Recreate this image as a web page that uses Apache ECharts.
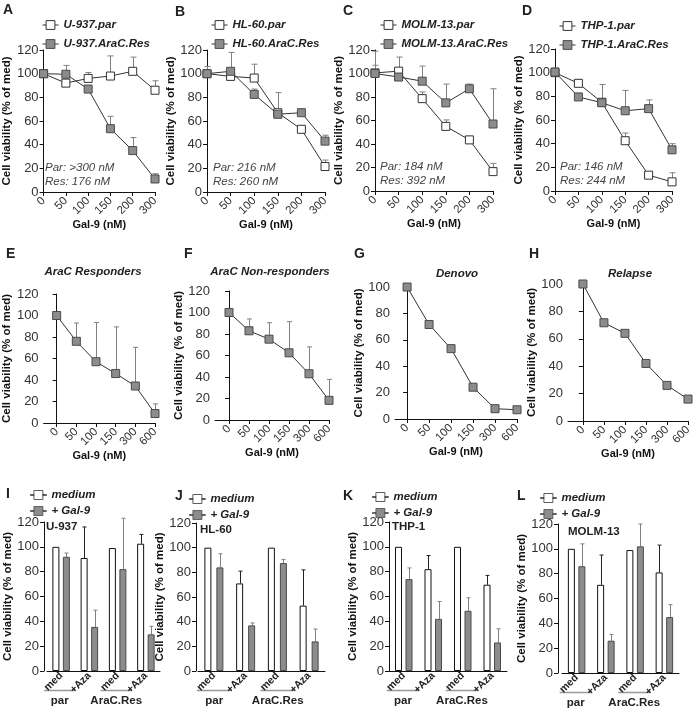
<!DOCTYPE html>
<html><head><meta charset="utf-8">
<script src="https://cdn.jsdelivr.net/npm/echarts@6/dist/echarts.min.js"></script>
<style>html,body{margin:0;padding:0;background:#fff}#c{width:700px;height:712px}</style>
</head><body><div id="c"></div>
<script>
// ================= DATA =================
const doseTop = ['0','50','100','150','200','300'];
const doseMid = ['0','50','100','150','300','600'];
const barCats = ['med','+Aza','med','+Aza'];
const groupLabels = ['par','AraC.Res'];

// A  U-937
const u937Par    = [100, 92, 96, 98, 102, 86];
const u937ParErr = [null, null, 101, 115, 114, 94];
const u937Res    = [100, 99.5, 87, 53.5, 35, 11];
const u937ResErr = [null, 107, null, 64, 46, 15.5];
// B  HL-60
const hl60Par    = [100, 97.7, 96.3, 67, 53, 21.5];
const hl60ParErr = [106, null, 108, 84, null, 27];
const hl60Res    = [100, 102, 82.5, 65.7, 67, 43];
const hl60ResErr = [null, 118, 87, null, 69.5, 48];
// C  MOLM-13
const molmPar    = [100.5, 102, 78.6, 55, 43.5, 16.5];
const molmParErr = [107, 114, 84.3, 60.5, null, 23.5];
const molmRes    = [100, 97, 93.5, 75, 87, 57];
const molmResErr = [119, null, 106.3, 91, 91, 87];
// D  THP-1
const thp1Par    = [100, 91, 75, 42.5, 13.4, 7.7];
const thp1ParErr = [104, 94, 90, 49, null, 15.4];
const thp1Res    = [100.5, 79.5, 74.6, 67.8, 69.6, 34.8];
const thp1ResErr = [null, null, null, 85, 77, 40];
// E-H
const respVal    = [100, 76, 57, 46, 34.4, 8.8];
const respErr    = [null, 93, 93.5, 89.4, 70.4, 17.8];
const nonRespVal = [100, 83, 75.2, 62.5, 43, 18.3];
const nonRespErr = [null, 94, 90.5, 91.5, 68, 37.8];
const denovoVal  = [100, 71.6, 53.3, 24.1, 7.8, 7];
const relapseVal = [100, 71.7, 64, 42, 26, 16];
// I-L   (order: par-med, par-+Aza, Res-med, Res-+Aza)
const iMed = [100, 91, 99, 102.5],  iMedErr = [null, 116, null, 110];
const iGal = [92, 35.5, 82, 29.5],  iGalErr = [95, 49, 123, 36];
const jMed = [100, 71, 100, 53],    jMedErr = [null, 81, null, 82];
const jGal = [84, 37, 87.5, 24],    jGalErr = [95, 39, 90.5, 34];
const kMed = [100, 82, 100, 69.5],  kMedErr = [null, 93, null, 77];
const kGal = [74, 42, 48.5, 23],    kGalErr = [83, 56, 59, 34];
const lMed = [100, 71, 99, 81],     lMedErr = [null, 95, null, 103];
const lGal = [86, 26, 102, 45],     lGalErr = [104, 31, 120, 55];

// ================= STYLE / LAYOUT =================
const FONT = '"Liberation Sans", Arial, Helvetica, sans-serif';
const TXT = '#222', AXC = '#111', LINEC = '#333', GRAYF = '#8c8c8c', GRAYB = '#4a4a4a', ERRC = '#808080';
const YNAME = 'Cell viability (% of med)';
const XNAME = 'Gal-9 (nM)';

const grids = [], xAxes = [], yAxes = [], series = [], titles = [], legends = [];

function errSeries(gi, data, offsetPx, cap, color) {
  const d = [];
  data.vals.forEach((v, i) => { if (data.errs[i] != null) d.push([i, v, data.errs[i]]); });
  series.push({
    type: 'custom', xAxisIndex: gi, yAxisIndex: gi, z: 1, silent: true, clip: false,
    encode: { x: 0, y: 1 },
    renderItem: function (params, api) {
      const p0 = api.coord([api.value(0), api.value(1)]);
      const p1 = api.coord([api.value(0), api.value(2)]);
      const cx = Math.round(p0[0] + offsetPx) + 0.5;
      return { type: 'group', children: [
        { type: 'line', shape: { x1: cx, y1: p0[1], x2: cx, y2: p1[1] }, style: { stroke: color, lineWidth: 1 } },
        { type: 'line', shape: { x1: cx - cap / 2, y1: p1[1], x2: cx + cap / 2, y2: p1[1] }, style: { stroke: color, lineWidth: 1 } }
      ]};
    },
    data: d
  });
}

function yAxisCfg(gi, max, nameGap, offset) {
  return {
    gridIndex: gi, type: 'value', min: 0, max: max, interval: 20, offset: offset || 0,
    name: YNAME, nameLocation: 'middle', nameGap: nameGap,
    nameTextStyle: { fontFamily: FONT, fontWeight: 'bold', fontSize: 11.5, color: AXC },
    axisLine: { show: true, lineStyle: { color: AXC, width: 1 } },
    axisTick: { show: true, length: 4, lineStyle: { color: AXC } },
    axisLabel: { fontFamily: FONT, fontSize: 13, color: '#333', margin: 5 },
    splitLine: { show: false }
  };
}

function letter(t, left, top) {
  titles.push({ text: t, left: left, top: top, padding: 0,
    textStyle: { fontFamily: FONT, fontWeight: 'bold', fontSize: 14, color: TXT } });
}

// ----- Top row (A-D) -----
const topPanels = [
  { L:'A', par:'U-937.par', res:'U-937.AraC.Res', pv:u937Par, pe:u937ParErr, rv:u937Res, re:u937ResErr, ic:'Par: >300 nM\nRes: 176 nM',
    grid:{left:37, top:50, width:118, height:142}, leg:[42,19], icPos:[45,161], let:[3,3] },
  { L:'B', par:'HL-60.par', res:'HL-60.AraC.Res', pv:hl60Par, pe:hl60ParErr, rv:hl60Res, re:hl60ResErr, ic:'Par: 216 nM\nRes: 260 nM',
    grid:{left:207, top:50, width:118, height:142}, leg:[211,19], icPos:[213,161], let:[175,5] },
  { L:'C', par:'MOLM-13.par', res:'MOLM-13.AraC.Res', pv:molmPar, pe:molmParErr, rv:molmRes, re:molmResErr, ic:'Par: 184 nM\nRes: 392 nM',
    grid:{left:375, top:50, width:118, height:141}, leg:[380,19], icPos:[380,160], let:[343,4] },
  { L:'D', par:'THP-1.par', res:'THP-1.AraC.Res', pv:thp1Par, pe:thp1ParErr, rv:thp1Res, re:thp1ResErr, ic:'Par: 146 nM\nRes: 244 nM',
    grid:{left:555, top:49, width:117, height:142}, leg:[559,20], icPos:[560,160], let:[522,4] }
];

topPanels.forEach(p => {
  const gi = grids.length;
  grids.push(p.grid);
  xAxes.push({
    gridIndex: gi, type: 'category', data: doseTop, boundaryGap: false,
    name: XNAME, nameLocation: 'middle', nameGap: 25,
    nameTextStyle: { fontFamily: FONT, fontWeight: 'bold', fontSize: 11, color: AXC },
    axisLine: { lineStyle: { color: AXC, width: 1 } },
    axisTick: { show: true, length: 4, interval: 0, lineStyle: { color: AXC } },
    axisLabel: { rotate: 45, interval: 0, fontFamily: FONT, fontSize: 11.5, color: '#333', margin: 7 }
  });
  yAxes.push(yAxisCfg(gi, 120, 23));
  errSeries(gi, { vals: p.pv, errs: p.pe }, 0, 6, ERRC);
  errSeries(gi, { vals: p.rv, errs: p.re }, 0, 6, ERRC);
  series.push({ name: p.par, type: 'line', xAxisIndex: gi, yAxisIndex: gi, data: p.pv, z: 3,
    symbol: 'rect', symbolSize: 8, lineStyle: { color: LINEC, width: 1 },
    itemStyle: { color: '#fff', borderColor: '#333', borderWidth: 1 }, emphasis: { disabled: true } });
  series.push({ name: p.res, type: 'line', xAxisIndex: gi, yAxisIndex: gi, data: p.rv, z: 4,
    symbol: 'rect', symbolSize: 8, lineStyle: { color: LINEC, width: 1 },
    itemStyle: { color: GRAYF, borderColor: GRAYB, borderWidth: 1 }, emphasis: { disabled: true } });
  legends.push({ left: p.leg[0], top: p.leg[1], orient: 'vertical', itemWidth: 16, itemHeight: 11, itemGap: 7,
    selectedMode: false, data: [p.par, p.res], padding: 0,
    itemStyle: { borderWidth: 1 }, lineStyle: { width: 1 },
    textStyle: { fontFamily: FONT, fontWeight: 'bold', fontStyle: 'italic', fontSize: 11.5, color: TXT } });
  titles.push({ text: p.ic, left: p.icPos[0], top: p.icPos[1], padding: 0,
    textStyle: { fontFamily: FONT, fontStyle: 'italic', fontWeight: 'normal', fontSize: 11.5, color: '#444', lineHeight: 14 } });
  letter(p.L, p.let[0], p.let[1]);
});

// ----- Middle row (E-H) -----
const midPanels = [
  { L:'E', title:'AraC Responders', v:respVal, e:respErr, max:120, xmin:-0.665,
    grid:{left:42, top:294, width:113, height:129}, tPos:[93,266], let:[6,247], ng:27, xg:24 },
  { L:'F', title:'AraC Non-responders', v:nonRespVal, e:nonRespErr, max:120, xmin:-0.7,
    grid:{left:215, top:291, width:114, height:129}, tPos:[270,266], let:[184,247], ng:24, xg:24 },
  { L:'G', title:'Denovo', v:denovoVal, e:null, max:100, xmin:-0.55,
    grid:{left:395, top:287, width:122, height:132}, tPos:[457,268], let:[354,247], ng:24, xg:26 },
  { L:'H', title:'Relapse', v:relapseVal, e:null, max:100, xmin:-0.71,
    grid:{left:568, top:284, width:120, height:137}, tPos:[630,268], let:[529,247], ng:20, xg:24 }
];

midPanels.forEach(p => {
  const gi = grids.length;
  grids.push(p.grid);
  const idx = doseMid.map((_, i) => i);
  xAxes.push({
    gridIndex: gi, type: 'value', min: p.xmin, max: doseMid.length - 1,
    name: XNAME, nameLocation: 'middle', nameGap: p.xg,
    nameTextStyle: { fontFamily: FONT, fontWeight: 'bold', fontSize: 11, color: AXC },
    axisLine: { show: true, onZero: false, lineStyle: { color: AXC, width: 1 } },
    axisTick: { show: true, length: 4, customValues: idx, lineStyle: { color: AXC } },
    axisLabel: { rotate: 45, customValues: idx, fontFamily: FONT, fontSize: 11.5, color: '#333', margin: 7,
      formatter: v => doseMid[Math.round(v)] },
    splitLine: { show: false }
  });
  yAxes.push(yAxisCfg(gi, p.max, p.ng));
  const pts = p.v.map((v, i) => [i, v]);
  if (p.e) errSeries(gi, { vals: p.v, errs: p.e }, 0, 5, ERRC);
  series.push({ name: p.title, type: 'line', xAxisIndex: gi, yAxisIndex: gi, data: pts, z: 3,
    symbol: 'rect', symbolSize: 8, lineStyle: { color: LINEC, width: 1 },
    itemStyle: { color: GRAYF, borderColor: GRAYB, borderWidth: 1 }, emphasis: { disabled: true } });
  titles.push({ text: p.title, left: p.tPos[0], top: p.tPos[1], textAlign: 'center', padding: 0,
    textStyle: { fontFamily: FONT, fontStyle: 'italic', fontWeight: 'bold', fontSize: 11.5, color: TXT } });
  letter(p.L, p.let[0], p.let[1]);
});

// ----- Bottom row (I-L) -----
const BAR_W = 7;
const LEG_ICON = 'path://M0,4.5H3.5V5.5H0Z M3.5,0.5H12.5V9.5H3.5Z M12.5,4.5H16V5.5H12.5Z';
const botPanels = [
  { L:'I', line:'U-937',   m:iMed, me:iMedErr, g:iGal, ge:iGalErr, gapPx:3.5,
    grid:{left:47, top:522, width:113, height:149}, yoff:3, leg:[30,489], lab:[46,521], let:[6,487], ng:25 },
  { L:'J', line:'HL-60',   m:jMed, me:jMedErr, g:jGal, ge:jGalErr, gapPx:5,
    grid:{left:198, top:523, width:127, height:148}, yoff:2, leg:[189,493], lab:[200,524], let:[175,489], ng:20 },
  { L:'K', line:'THP-1',   m:kMed, me:kMedErr, g:kGal, ge:kGalErr, gapPx:3.5,
    grid:{left:389, top:522, width:118, height:149}, yoff:0, leg:[372,491], lab:[392,521], let:[343,489], ng:22 },
  { L:'L', line:'MOLM-13', m:lMed, me:lMedErr, g:lGal, ge:lGalErr, gapPx:3.5,
    grid:{left:562, top:524, width:117, height:149}, yoff:4, leg:[540,492], lab:[568,526], let:[517,489], ng:20 }
];
const barAxisIdx = [];
botPanels.forEach(p => {
  const gi = grids.length;
  barAxisIdx.push(gi);
  grids.push(p.grid);
  xAxes.push({
    gridIndex: gi, type: 'category', data: barCats,
    axisLine: { lineStyle: { color: AXC, width: 1 } },
    axisTick: { show: false },
    axisLabel: { rotate: 45, interval: 0, fontFamily: FONT, fontWeight: 'bold', fontSize: 10.5, color: TXT, margin: 3 }
  });
  yAxes.push(yAxisCfg(gi, 120, p.ng, p.yoff));
  const off = (BAR_W + p.gapPx) / 2;
  series.push({ name: 'medium', type: 'bar', xAxisIndex: gi, yAxisIndex: gi, data: p.m, z: 2,
    barWidth: BAR_W, barGap: (p.gapPx / BAR_W * 100) + '%',
    itemStyle: { color: '#fff', borderColor: '#111', borderWidth: 1 }, emphasis: { disabled: true } });
  series.push({ name: '+ Gal-9', type: 'bar', xAxisIndex: gi, yAxisIndex: gi, data: p.g, z: 2,
    barWidth: BAR_W, barGap: (p.gapPx / BAR_W * 100) + '%',
    itemStyle: { color: GRAYF, borderColor: GRAYB, borderWidth: 1 }, emphasis: { disabled: true } });
  errSeries(gi, { vals: p.m, errs: p.me }, -off, 4, '#222');
  errSeries(gi, { vals: p.g, errs: p.ge }, off, 4, ERRC);
  legends.push({ left: p.leg[0], top: p.leg[1], orient: 'vertical', itemWidth: 16, itemHeight: 10, itemGap: 4,
    selectedMode: false, padding: 0,
    data: [
      { name: 'medium', icon: LEG_ICON, itemStyle: { color: '#fff', borderColor: '#333', borderWidth: 0.8 } },
      { name: '+ Gal-9', icon: LEG_ICON, itemStyle: { color: GRAYF, borderColor: GRAYB, borderWidth: 0.8 } }
    ],
    textStyle: { fontFamily: FONT, fontWeight: 'bold', fontStyle: 'italic', fontSize: 11.5, color: TXT } });
  titles.push({ text: p.line, left: p.lab[0], top: p.lab[1], padding: 0,
    textStyle: { fontFamily: FONT, fontWeight: 'bold', fontSize: 11.5, color: TXT } });
  letter(p.L, p.let[0], p.let[1]);
});

const chart = echarts.init(document.getElementById('c'), null, { renderer: 'canvas' });
chart.setOption({
  animation: false, backgroundColor: '#fff',
  textStyle: { fontFamily: FONT },
  title: titles, legend: legends, grid: grids, xAxis: xAxes, yAxis: yAxes, series: series
});

// group underlines + group labels placed from the library's axis scales
const gfx = [];
barAxisIdx.forEach(ai => {
  const y0 = chart.convertToPixel({ yAxisIndex: ai }, 0);
  [[0, 1], [2, 3]].forEach((pair, k) => {
    const xa = chart.convertToPixel({ xAxisIndex: ai }, pair[0]);
    const xb = chart.convertToPixel({ xAxisIndex: ai }, pair[1]);
    const x1 = xa - 17, x2 = xb - 14;
    gfx.push({ type: 'line', shape: { x1: x1, y1: y0 + 19.5, x2: x2, y2: y0 + 19.5 },
      style: { stroke: '#999', lineWidth: 1.5 }, silent: true });
    gfx.push({ type: 'text', x: (x1 + x2) / 2, y: y0 + 30, silent: true,
      style: { text: groupLabels[k], fontFamily: FONT, fontWeight: 'bold', fontSize: 11.5, fill: TXT,
        align: 'center', verticalAlign: 'middle' } });
  });
});
chart.setOption({ graphic: gfx });
</script>
</body></html>
